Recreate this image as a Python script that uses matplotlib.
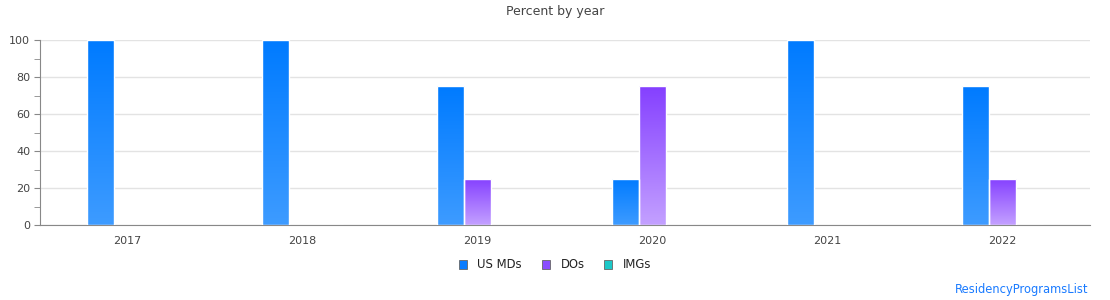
import numpy as np
import matplotlib
matplotlib.use("Agg")
import matplotlib.pyplot as plt
from matplotlib.colors import LinearSegmentedColormap
from matplotlib.patches import Patch

years = ["2017", "2018", "2019", "2020", "2021", "2022"]
series = ["US MDs", "DOs", "IMGs"]
us_mds = [100, 100, 75, 25, 100, 75]
dos = [0, 0, 25, 75, 0, 25]
imgs = [0, 0, 0, 0, 0, 0]

top_colors = ["#007bff", "#8540ff", "#17c7c7"]
bottom_colors = ["#3d9bff", "#c3a0ff", "#6fe0e0"]
legend_colors = ["#0a7cff", "#8a4dff", "#1cc8c8"]

fig = plt.figure(figsize=(11.1, 3.0), dpi=100)
ax = fig.add_axes([40 / 1110, 75 / 300, 1050 / 1110, 185 / 300])

bw = 0.155
x = np.arange(len(years))
grad = np.linspace(0, 1, 100).reshape(-1, 1)

for si, vals in enumerate([us_mds, dos, imgs]):
    cmap = LinearSegmentedColormap.from_list("g%d" % si, [top_colors[si], bottom_colors[si]])
    bars = ax.bar(x + (si - 1) * bw, vals, width=bw, facecolor="none",
                  edgecolor="white", linewidth=1.0, zorder=3)
    for b, v in zip(bars, vals):
        if v <= 0:
            continue
        x0 = b.get_x()
        im = ax.imshow(grad, extent=(x0, x0 + bw, 0, v), cmap=cmap, aspect="auto",
                       origin="upper", zorder=2)
        im.set_clip_path(b)

ax.set_xlim(-0.5, len(years) - 0.5)
ax.set_ylim(0, 100)
ax.set_xticks(x)
ax.set_xticklabels(years)
ax.set_yticks(range(0, 101, 20))
ax.set_yticks(range(0, 101, 10), minor=True)
ax.yaxis.grid(True, color="#e3e3e3", linewidth=1, zorder=0)
ax.set_axisbelow(True)
ax.tick_params(axis="x", length=0, pad=8, labelsize=8, labelcolor="#444444")
ax.tick_params(axis="y", which="both", length=4, color="#888888", labelsize=8,
               labelcolor="#444444", pad=3)
for s in ["top", "right"]:
    ax.spines[s].set_visible(False)
for s in ["left", "bottom"]:
    ax.spines[s].set_color("#888888")

fig.text(0.5, 1 - 12 / 300, "Percent by year", ha="center", va="center",
         fontsize=9, color="#444444")

handles = [Patch(facecolor=c, edgecolor="#666666", linewidth=0.6) for c in legend_colors]
fig.legend(handles, series, loc="center", bbox_to_anchor=(0.5, 1 - 265 / 300), ncol=3,
           frameon=False, fontsize=8.4, handlelength=0.7, handleheight=0.7,
           columnspacing=1.7, handletextpad=0.9, labelcolor="#222222")

fig.text(1 - 22 / 1110, 1 - 289 / 300, "ResidencyProgramsList", ha="right", va="center",
         fontsize=8.3, color="#1a7bff")

fig.savefig("out.png", dpi=100)
